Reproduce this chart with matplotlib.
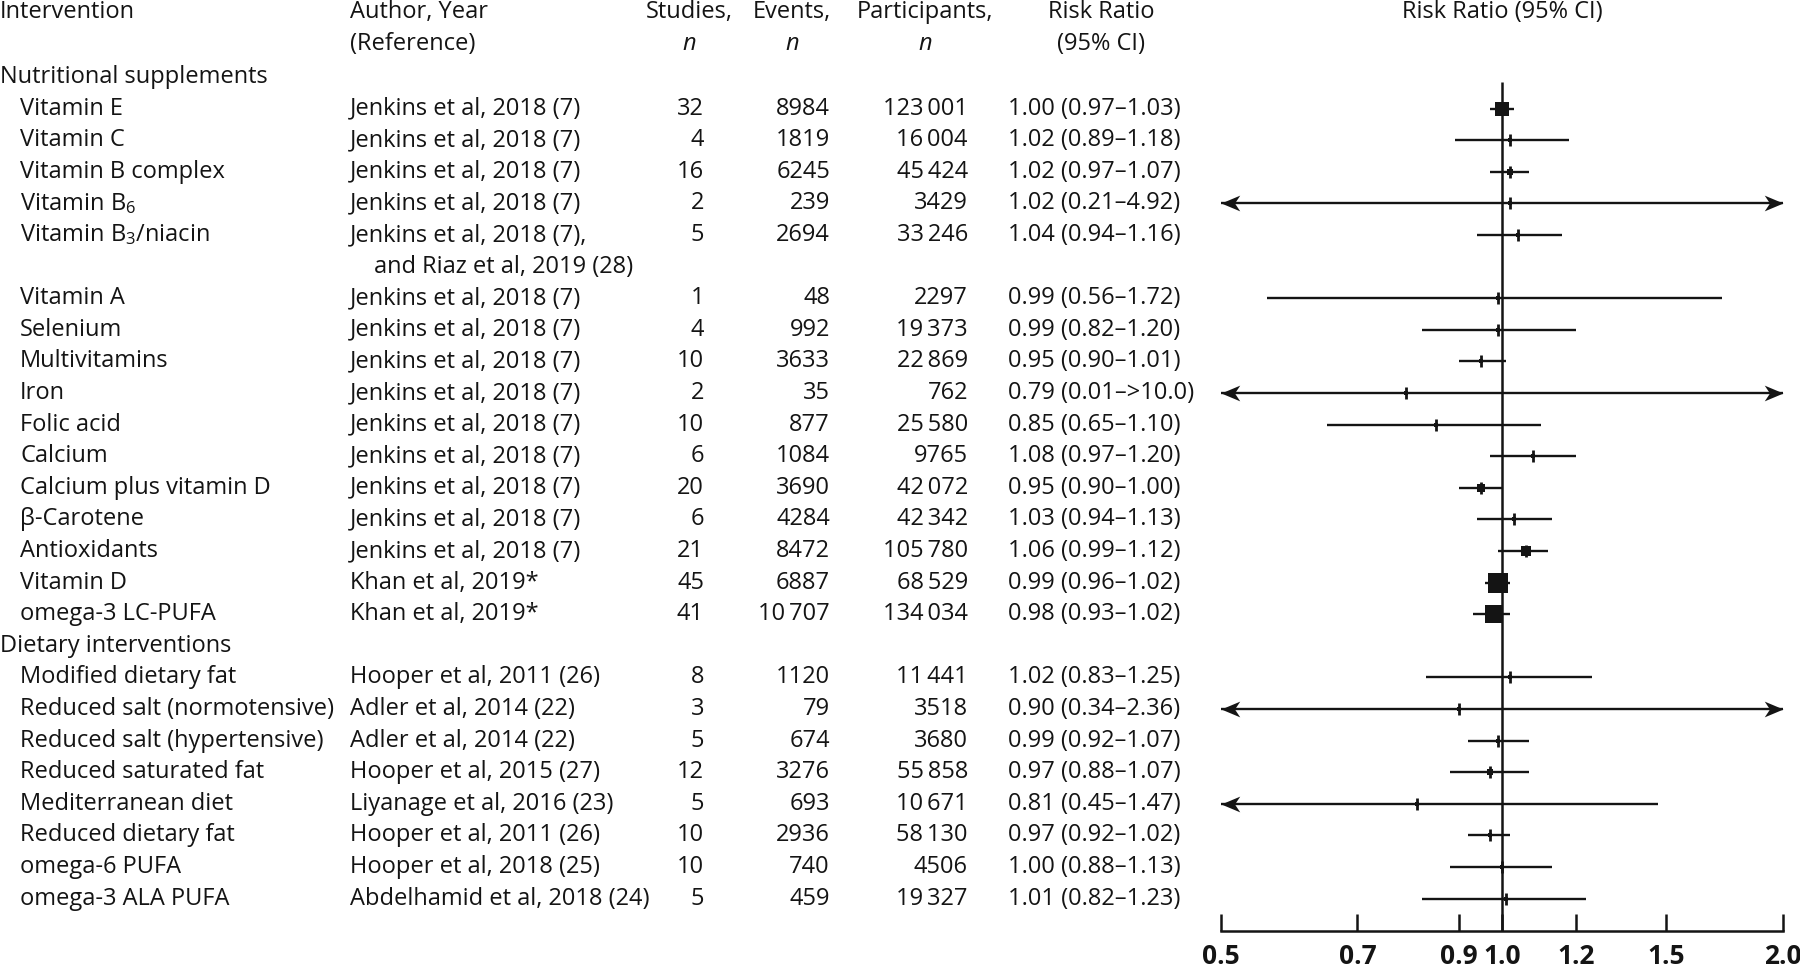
import matplotlib
matplotlib.use('Agg')
import matplotlib.pyplot as plt
from matplotlib.path import Path
from matplotlib.transforms import blended_transform_factory

plt.rcParams['font.family'] = ['Open Sans', 'DejaVu Sans']
plt.rcParams['mathtext.default'] = 'regular'

# data
groups = ['Nutritional supplements', 'Dietary interventions']
group_sizes = [16, 8]

interventions = ['Vitamin E', 'Vitamin C', 'Vitamin B complex', r'Vitamin B$_6$',
                 r'Vitamin B$_3$/niacin', 'Vitamin A', 'Selenium', 'Multivitamins',
                 'Iron', 'Folic acid', 'Calcium', 'Calcium plus vitamin D',
                 'β-Carotene', 'Antioxidants', 'Vitamin D', 'omega-3 LC-PUFA',
                 'Modified dietary fat', 'Reduced salt (normotensive)',
                 'Reduced salt (hypertensive)', 'Reduced saturated fat',
                 'Mediterranean diet', 'Reduced dietary fat', 'omega-6 PUFA',
                 'omega-3 ALA PUFA']

authors = ['Jenkins et al, 2018 (7)'] * 4 + ['Jenkins et al, 2018 (7),'] + \
          ['Jenkins et al, 2018 (7)'] * 9 + ['Khan et al, 2019*'] * 2 + \
          ['Hooper et al, 2011 (26)', 'Adler et al, 2014 (22)', 'Adler et al, 2014 (22)',
           'Hooper et al, 2015 (27)', 'Liyanage et al, 2016 (23)', 'Hooper et al, 2011 (26)',
           'Hooper et al, 2018 (25)', 'Abdelhamid et al, 2018 (24)']
author_extra = {4: 'and Riaz et al, 2019 (28)'}

studies = [32, 4, 16, 2, 5, 1, 4, 10, 2, 10, 6, 20, 6, 21, 45, 41,
           8, 3, 5, 12, 5, 10, 10, 5]
events = [8984, 1819, 6245, 239, 2694, 48, 992, 3633, 35, 877, 1084, 3690, 4284,
          8472, 6887, 10707, 1120, 79, 674, 3276, 693, 2936, 740, 459]
participants = [123001, 16004, 45424, 3429, 33246, 2297, 19373, 22869, 762, 25580,
                9765, 42072, 42342, 105780, 68529, 134034, 11441, 3518, 3680,
                55858, 10671, 58130, 4506, 19327]
rr = [1.00, 1.02, 1.02, 1.02, 1.04, 0.99, 0.99, 0.95, 0.79, 0.85, 1.08, 0.95, 1.03,
      1.06, 0.99, 0.98, 1.02, 0.90, 0.99, 0.97, 0.81, 0.97, 1.00, 1.01]
lo = [0.97, 0.89, 0.97, 0.21, 0.94, 0.56, 0.82, 0.90, 0.01, 0.65, 0.97, 0.90, 0.94,
      0.99, 0.96, 0.93, 0.83, 0.34, 0.92, 0.88, 0.45, 0.92, 0.88, 0.82]
hi = [1.03, 1.18, 1.07, 4.92, 1.16, 1.72, 1.20, 1.01, 10.0, 1.10, 1.20, 1.00, 1.13,
      1.12, 1.02, 1.02, 1.25, 2.36, 1.07, 1.07, 1.47, 1.02, 1.13, 1.23]
ci_text = ['%.2f (%.2f–%.2f)' % (r, l, h) for r, l, h in zip(rr, lo, hi)]
ci_text[8] = '0.79 (0.01–>10.0)'

ticks = [0.5, 0.7, 0.9, 1.0, 1.2, 1.5, 2.0]
xmin, xmax = 0.5, 2.0


def fmt(v):
    s = str(v)
    if v >= 10000:
        s = s[:-3] + '\u2009' + s[-3:]
    return s


# row positions
rows = []
group_rows = []
r = 0
k = 0
for g, n in zip(groups, group_sizes):
    group_rows.append(r)
    r += 1
    for i in range(n):
        rows.append(r)
        r += 1
        if k in author_extra:
            r += 1
        k += 1

W, H = 1800, 969
fig = plt.figure(figsize=(W / 100, H / 100), dpi=100)
top_px, step = 77, 31.6
axis_px = 931
bottom_row = (axis_px - top_px) / step
ax = fig.add_axes([1221 / W, 1 - axis_px / H, (1783 - 1221) / W, (axis_px - top_px) / H])
ax.set_ylim(bottom_row, 0)
ax.set_xscale('log')
ax.set_xlim(xmin, xmax)

tr = blended_transform_factory(fig.transFigure, ax.transData)
fs = 17
ink = '#141414'


def txt(xpx, y, s, ha='left', **kw):
    ax.text(xpx / W, y, s, transform=tr, ha=ha, va='center', fontsize=fs,
            color=ink, **kw)


# headers
txt(0, -2.05, 'Intervention')
txt(350, -2.05, 'Author, Year')
txt(350, -1.05, '(Reference)')
txt(689, -2.05, 'Studies,', ha='center')
txt(689, -1.05, 'n', ha='center', style='italic')
txt(792, -2.05, 'Events,', ha='center')
txt(792, -1.05, 'n', ha='center', style='italic')
txt(925, -2.05, 'Participants,', ha='center')
txt(925, -1.05, 'n', ha='center', style='italic')
txt(1101, -2.05, 'Risk Ratio', ha='center')
txt(1101, -1.05, '(95% CI)', ha='center')
txt(1502, -2.05, 'Risk Ratio (95% CI)', ha='center')

for g, gr in zip(groups, group_rows):
    txt(0, gr, g)

for i, y in enumerate(rows):
    txt(20, y, interventions[i])
    txt(350, y, authors[i])
    if i in author_extra:
        txt(374, y + 1, author_extra[i])
    txt(704, y, str(studies[i]), ha='right')
    txt(830, y, fmt(events[i]), ha='right')
    txt(968, y, fmt(participants[i]), ha='right')
    txt(1008, y, ci_text[i])

# stealth arrowheads, tip at the marker origin
left_head = Path([(0, 0), (1, 0.42), (0.72, 0), (1, -0.42), (0, 0)],
                 [Path.MOVETO, Path.LINETO, Path.LINETO, Path.LINETO, Path.CLOSEPOLY])
right_head = Path([(0, 0), (-1, 0.42), (-0.72, 0), (-1, -0.42), (0, 0)],
                  [Path.MOVETO, Path.LINETO, Path.LINETO, Path.LINETO, Path.CLOSEPOLY])

# forest plot
ax.vlines(1.0, 0.15, bottom_row, color=ink, lw=1.8, clip_on=False)
for i, y in enumerate(rows):
    a = max(lo[i], xmin)
    b = min(hi[i], xmax)
    ax.hlines(y, a, b, color=ink, lw=1.7, clip_on=False)
    if lo[i] < xmin:
        ax.plot(xmin, y, marker=left_head, ms=27, color=ink, mew=0, clip_on=False)
    if hi[i] > xmax:
        ax.plot(xmax, y, marker=right_head, ms=27, color=ink, mew=0, clip_on=False)
    ms = max(studies[i] * 0.31, 3.5)
    ax.plot(rr[i], y, 's', color=ink, ms=ms, mew=0)
    ax.plot(rr[i], y, '|', color=ink, ms=9, mew=2)

for s in ['top', 'right', 'left']:
    ax.spines[s].set_visible(False)
ax.spines['bottom'].set_linewidth(1.8)
ax.spines['bottom'].set_color(ink)
ax.set_yticks([])
ax.set_xticks(ticks)
ax.set_xticklabels(['%.1f' % t for t in ticks], fontsize=19, fontweight='bold',
                   color=ink)
ax.minorticks_off()
ax.tick_params(axis='x', direction='in', length=12, width=1.8, pad=9, color=ink)

fig.savefig('out.png', dpi=100)
